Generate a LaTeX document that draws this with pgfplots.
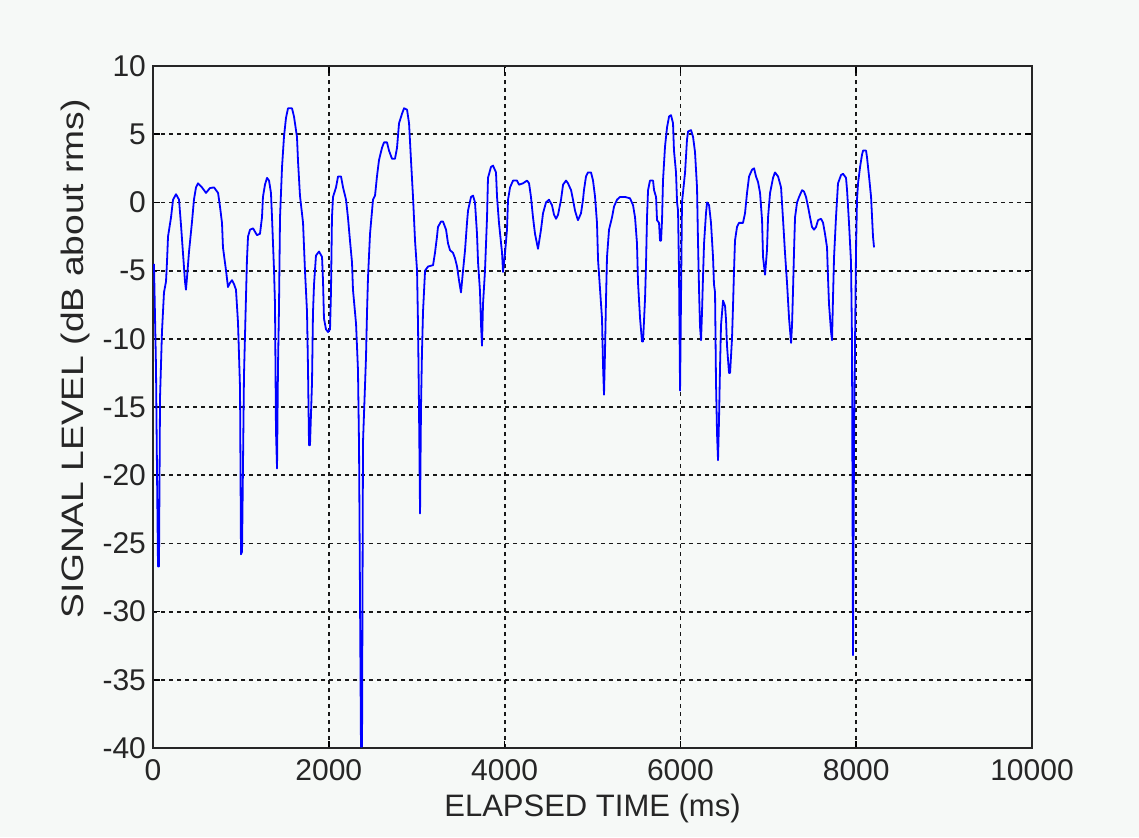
\documentclass[border=0pt]{standalone}
\usepackage{fontspec}
\setmainfont{Liberation Sans}
\usepackage{graphicx}
\usepackage{pgfplots}
\pgfplotsset{compat=1.18}
\definecolor{bg}{RGB}{246,249,247}
\definecolor{mblue}{RGB}{0,0,255}
\begin{document}
\begin{tikzpicture}
\fill[bg] (-76.5pt,-44.5pt) rectangle (493pt,374pt);
\begin{axis}[
  at={(0pt,0pt)}, anchor=south west,
  scale only axis, width=439.5pt, height=341pt,
  xmin=0, xmax=10000, ymin=-40, ymax=10,
  xtick={0,2000,4000,6000,8000,10000},
  ytick={-40,-35,...,10},
  scaled x ticks=false,
  /pgf/number format/1000 sep={},
  /pgf/number format/assume math mode=true,
  tick align=inside, major tick length=3.5pt, tick pos=both,
  grid=major,
  major grid style={black!90, line width=0.9pt, dash pattern=on 1.8pt off 2.2pt},
  axis line style={black!85, line width=1pt},
  tick style={black, line width=0.8pt},
  ticklabel style={font=\fontsize{15}{18}\selectfont, black!85},
  xticklabel style={yshift=-2pt},
  label style={font=\fontsize{15.5}{18}\selectfont, black!85},
  xlabel={ELAPSED TIME (ms)},
  ylabel={\scalebox{1.2}[1]{SIGNAL LEVEL (dB about rms)}},
  xlabel style={at={(axis description cs:0.5,0)}, anchor=north, inner sep=0pt, yshift=-23pt},
  ylabel style={at={(axis description cs:-0.0887,0.571)}, anchor=center, inner sep=0pt},
]
\addplot[mblue, line width=0.9pt, line join=round] coordinates {
(11,-4.5) (34,-12) (46,-20) (57,-26.7) (68,-26.7) (80,-14.3) (102,-9.5) (125,-6.6) (148,-5.8) (159,-4.4)
(171,-2.5) (205,-1.1) (228,0.2) (262,0.6) (296,0.2) (319,-1.7) (341,-3.7) (364,-5.8) (375,-6.4) (387,-5.5)
(410,-3.6) (444,-1.4) (466,0.2) (489,1.1) (512,1.4) (557,1.1) (603,0.7) (648,1.05) (694,1.1) (740,0.7)
(762,-0.3) (785,-1.5) (796,-3.3) (831,-5.0) (853,-6.2) (876,-5.9) (899,-5.7) (922,-6.0) (944,-6.4) (967,-8.8)
(990,-13.6) (1001,-25.8) (1013,-25.6) (1035,-12.7) (1058,-6.9) (1069,-4.2) (1081,-2.5) (1104,-2.0) (1138,-1.9) (1183,-2.4)
(1217,-2.3) (1240,-1.1) (1251,0.4) (1274,1.3) (1297,1.8) (1320,1.6) (1342,0.7) (1354,-1.1) (1377,-5.0) (1388,-7.5)
(1399,-16.7) (1411,-19.5) (1422,-12) (1433,-7.9) (1445,-1.1) (1468,2.6) (1490,4.8) (1513,6.2) (1536,6.9) (1581,6.9)
(1604,6.3) (1638,4.8) (1650,3.0) (1672,0.5) (1707,-1.5) (1729,-5.0) (1752,-8) (1763,-12) (1775,-17.8) (1786,-17.8)
(1809,-13.2) (1820,-8.1) (1832,-6.0) (1854,-3.9) (1889,-3.6) (1923,-4.0) (1934,-5.7) (1945,-8.5) (1968,-9.3) (1991,-9.5)
(2014,-9.3) (2025,-6.5) (2036,-1.1) (2048,0.4) (2082,1.1) (2105,1.9) (2139,1.9) (2162,1.1) (2196,0.2) (2218,-1.1)
(2241,-2.8) (2264,-4.4) (2275,-6.4) (2310,-8.9) (2332,-12.3) (2344,-17.9) (2366,-39.9) (2378,-39.9) (2389,-17.6) (2423,-11.4)
(2435,-8.0) (2446,-5.5) (2469,-2.3) (2503,0.2) (2526,0.5) (2548,1.9) (2571,3.1) (2605,4.0) (2628,4.4) (2662,4.4)
(2685,3.8) (2719,3.2) (2753,3.2) (2776,4.0) (2799,5.8) (2833,6.5) (2856,6.9) (2890,6.8) (2913,5.8) (2935,3.1)
(2958,0.4) (2981,-2.8) (3004,-5.0) (3015,-9) (3026,-15) (3038,-22.8) (3049,-15) (3060,-11) (3072,-8) (3095,-5.0)
(3129,-4.7) (3186,-4.6) (3208,-3.7) (3231,-2.5) (3242,-1.8) (3277,-1.4) (3299,-1.4) (3334,-2.0) (3356,-3.0) (3379,-3.5)
(3413,-3.7) (3436,-4.1) (3459,-4.7) (3481,-5.7) (3504,-6.6) (3527,-5.0) (3550,-3.5) (3572,-1.5) (3584,-0.6) (3618,0.4)
(3641,0.5) (3663,0.0) (3686,-2.3) (3698,-4.4) (3720,-6.5) (3732,-9) (3743,-10.5) (3754,-7.5) (3777,-5.0) (3800,-1.1)
(3811,1.8) (3845,2.6) (3868,2.7) (3902,2.2) (3914,0.4) (3936,-1.5) (3971,-3.7) (3982,-5.1) (4005,-3.7) (4027,-2.0)
(4039,0.2) (4062,1.1) (4096,1.6) (4141,1.6) (4164,1.3) (4209,1.4) (4255,1.6) (4278,1.4) (4300,0.4) (4323,-1.1)
(4346,-2.3) (4380,-3.4) (4414,-2.0) (4437,-0.8) (4471,0.0) (4505,0.2) (4539,-0.2) (4562,-0.9) (4585,-1.2) (4608,-0.9)
(4642,0.2) (4665,1.3) (4699,1.6) (4721,1.4) (4756,0.9) (4778,0.2) (4801,-0.6) (4824,-1.1) (4835,-1.3) (4869,-0.8)
(4892,0.2) (4903,0.9) (4926,1.9) (4949,2.2) (4983,2.2) (5006,1.6) (5029,0.4) (5051,-1.5) (5063,-4.2) (5086,-6.4)
(5108,-8.5) (5120,-12) (5131,-14.1) (5142,-11) (5154,-7) (5165,-4.0) (5188,-2.0) (5222,-1.1) (5245,-0.3) (5279,0.2)
(5313,0.4) (5370,0.4) (5427,0.3) (5461,-0.2) (5484,-1.1) (5506,-3.0) (5518,-5.9) (5541,-8.5) (5563,-10.2) (5575,-10.2)
(5598,-7) (5609,-4.5) (5620,-1.1) (5632,0.9) (5654,1.6) (5689,1.6) (5700,0.9) (5723,0.4) (5734,-1.3) (5757,-1.5)
(5768,-2.8) (5780,-2.8) (5791,-1.3) (5802,1.6) (5825,4.1) (5848,5.5) (5871,6.3) (5893,6.4) (5916,5.8) (5927,3.8)
(5950,2.2) (5962,0.0) (5973,-0.6) (5984,-5) (5996,-13.8) (6007,-7) (6018,0.0) (6053,2.2) (6075,4.6) (6087,5.2)
(6121,5.3) (6144,4.8) (6166,3.7) (6189,1.1) (6200,-2.8) (6212,-6.4) (6223,-9.1) (6235,-10.1) (6246,-8) (6257,-5.5)
(6269,-3) (6291,-0.8) (6303,0.0) (6326,-0.2) (6348,-1.5) (6371,-4.0) (6382,-6.0) (6394,-6.6) (6405,-13.2) (6417,-17)
(6428,-18.9) (6439,-16) (6451,-12) (6462,-9) (6485,-7.2) (6508,-7.6) (6519,-8.6) (6530,-10.5) (6553,-12.5) (6565,-12.5)
(6587,-10) (6599,-7.5) (6610,-5.0) (6621,-2.8) (6644,-1.8) (6667,-1.5) (6712,-1.5) (6735,-0.8) (6758,0.7) (6781,1.9)
(6815,2.4) (6838,2.5) (6860,1.9) (6883,1.5) (6906,0.7) (6929,-1.3) (6940,-4.0) (6963,-5.3) (6985,-3.5) (6997,-1.1)
(7020,0.7) (7054,1.8) (7076,2.2) (7111,1.9) (7145,1.1) (7168,-1.3) (7190,-3.7) (7213,-5.9) (7236,-8.5) (7259,-10.3)
(7270,-9) (7281,-6.5) (7293,-3.5) (7304,-1.1) (7327,0.0) (7350,0.4) (7384,0.9) (7406,0.8) (7429,0.4) (7452,-0.3)
(7475,-1.1) (7497,-1.8) (7520,-2.0) (7543,-1.8) (7566,-1.3) (7600,-1.2) (7623,-1.5) (7645,-2.3) (7668,-3.3) (7679,-5.5)
(7691,-7.5) (7714,-9.5) (7725,-10.1) (7736,-7) (7748,-4.0) (7770,-1.1) (7793,1.4) (7827,2.0) (7850,2.1) (7884,1.8)
(7896,0.9) (7918,-1.5) (7941,-4.4) (7952,-10) (7964,-33.2) (7975,-18) (7987,-10) (7998,-3.5) (8009,0.2) (8021,1.4)
(8044,2.6) (8066,3.5) (8078,3.8) (8112,3.8) (8123,3.3) (8146,1.9) (8169,0.4) (8191,-2.5) (8203,-3.3)
};
\end{axis}
\end{tikzpicture}
\end{document}
